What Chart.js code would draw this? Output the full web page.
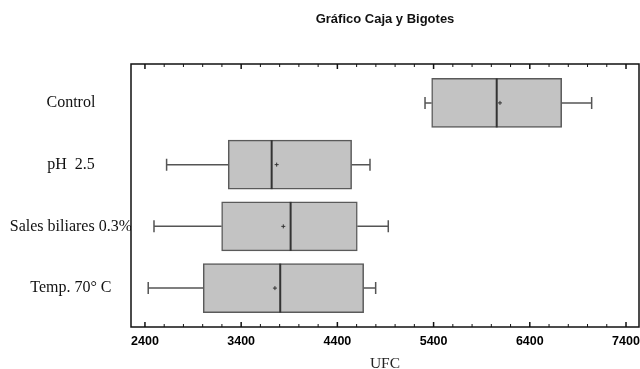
<!DOCTYPE html>
<html>
<head>
<meta charset="utf-8">
<title>Gráfico Caja y Bigotes</title>
<script src="https://cdn.jsdelivr.net/npm/chart.js@4.4.1/dist/chart.umd.min.js"></script>
<style>
  html, body { margin: 0; padding: 0; background: #fff; }
  #wrap { width: 640px; height: 369px; position: relative; }
</style>
</head>
<body>
<div id="wrap"><canvas id="boxChart"></canvas></div>
<script>
// datos (UFC)
const categorias = ['Control', 'pH  2.5', 'Sales biliares 0.3%', 'Temp. 70° C'];
const minimos = [5311, 2625, 2494, 2434];
const cuartil1 = [5380, 3266, 3197, 3006];
const medianas = [6056, 3717, 3914, 3806];
const cuartil3 = [6731, 4548, 4607, 4673];
const maximos = [7043, 4739, 4929, 4798];
const medias = [6090, 3769, 3838, 3751];
const etiquetasX = [2400, 3400, 4400, 5400, 6400, 7400];

const cajas = categorias.map((c, i) => ({ y: i, x: [cuartil1[i], cuartil3[i]] }));

// bigotes, mediana y media
const bigotesPlugin = {
  id: 'bigotes',
  afterDatasetsDraw(chart) {
    const ctx = chart.ctx;
    const xs = chart.scales.x, ys = chart.scales.y;
    ctx.save();
    categorias.forEach((c, i) => {
      const cy = ys.getPixelForValue(i);
      const xMin = xs.getPixelForValue(minimos[i]);
      const xQ1 = xs.getPixelForValue(cuartil1[i]);
      const xQ3 = xs.getPixelForValue(cuartil3[i]);
      const xMax = xs.getPixelForValue(maximos[i]);
      const xMed = xs.getPixelForValue(medianas[i]);
      const xMean = xs.getPixelForValue(medias[i]);
      ctx.strokeStyle = '#555';
      ctx.lineWidth = 1.5;
      ctx.beginPath();
      ctx.moveTo(xMin, cy); ctx.lineTo(xQ1, cy);
      ctx.moveTo(xQ3, cy); ctx.lineTo(xMax, cy);
      ctx.moveTo(xMin, cy - 6); ctx.lineTo(xMin, cy + 6);
      ctx.moveTo(xMax, cy - 6); ctx.lineTo(xMax, cy + 6);
      ctx.stroke();
      // mediana
      ctx.strokeStyle = '#333';
      ctx.lineWidth = 2;
      const h = 24.5;
      ctx.beginPath();
      ctx.moveTo(xMed, cy - h); ctx.lineTo(xMed, cy + h);
      ctx.stroke();
      // media
      ctx.strokeStyle = '#333';
      ctx.lineWidth = 1;
      ctx.beginPath();
      ctx.moveTo(xMean - 2, cy); ctx.lineTo(xMean + 2, cy);
      ctx.moveTo(xMean, cy - 2); ctx.lineTo(xMean, cy + 2);
      ctx.stroke();
    });
    ctx.restore();
  }
};

// marco y marcas hacia adentro
const marcoPlugin = {
  id: 'marco',
  afterDraw(chart) {
    const ctx = chart.ctx;
    const a = chart.chartArea;
    const xs = chart.scales.x;
    ctx.save();
    ctx.strokeStyle = '#111';
    ctx.lineWidth = 1.5;
    ctx.strokeRect(a.left, a.top, a.right - a.left, a.bottom - a.top);
    xs.ticks.forEach(t => {
      const px = xs.getPixelForValue(t.value);
      const mayor = etiquetasX.includes(t.value);
      const len = mayor ? 5 : 3;
      ctx.lineWidth = mayor ? 1.5 : 1;
      ctx.beginPath();
      ctx.moveTo(px, a.top); ctx.lineTo(px, a.top + len);
      ctx.moveTo(px, a.bottom); ctx.lineTo(px, a.bottom - len);
      ctx.stroke();
    });
    ctx.restore();
  }
};

const ctx = document.getElementById('boxChart').getContext('2d');
const chart = new Chart(ctx, {
  type: 'bar',
  data: {
    datasets: [{
      data: cajas,
      backgroundColor: '#c3c3c3',
      borderColor: '#5a5a5a',
      borderWidth: 1.5,
      borderSkipped: false,
      barThickness: 49
    }]
  },
  options: {
    indexAxis: 'y',
    responsive: true,
    maintainAspectRatio: false,
    animation: false,
    devicePixelRatio: 1,
    layout: { padding: { left: 0, right: 1, top: 0, bottom: 0 } },
    plugins: {
      legend: { display: false },
      tooltip: { enabled: false },
      title: {
        display: true,
        text: 'Gráfico Caja y Bigotes',
        fullSize: false,
        color: '#111',
        font: { family: 'Liberation Sans', size: 13, weight: 'bold' },
        padding: { top: 12, bottom: 36.4 }
      }
    },
    scales: {
      x: {
        type: 'linear',
        min: 2255,
        max: 7535,
        grid: { display: false, drawTicks: false },
        border: { display: false },
        afterFit: scale => {
          scale.height = 42;
          scale.paddingLeft = 0;
          scale.paddingRight = 0;
        },
        ticks: {
          stepSize: 200,
          includeBounds: false,
          autoSkip: false,
          maxRotation: 0,
          padding: 7,
          color: '#000',
          font: { family: 'Liberation Sans', size: 12.5, weight: 'bold' },
          callback: v => etiquetasX.includes(v) ? String(v) : ''
        },
        title: {
          display: true,
          text: 'UFC',
          color: '#222',
          font: { family: 'Liberation Serif', size: 15.5 },
          padding: { top: 2, bottom: -4 }
        }
      },
      y: {
        type: 'linear',
        min: -0.63,
        max: 3.63,
        reverse: true,
        offset: false,
        grid: { display: false, drawTicks: false },
        border: { display: false },
        afterFit: scale => { scale.width = 131; },
        ticks: {
          stepSize: 1,
          includeBounds: false,
          autoSkip: false,
          crossAlign: 'center',
          padding: -1,
          color: '#111',
          font: { family: 'Liberation Serif', size: 16 },
          callback: v => Number.isInteger(v) ? categorias[v] : ''
        }
      }
    }
  },
  plugins: [bigotesPlugin, marcoPlugin]
});
</script>
</body>
</html>
